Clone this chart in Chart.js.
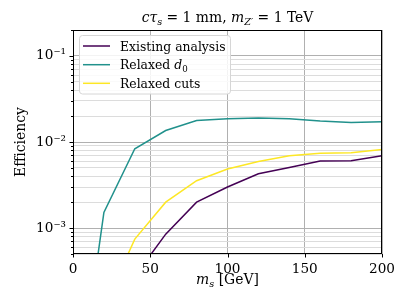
<!DOCTYPE html>
<html>
<head>
<meta charset="utf-8">
<script src="https://cdn.jsdelivr.net/npm/chart.js@4.4.0/dist/chart.umd.min.js"></script>
<style>
  html, body { margin: 0; padding: 0; background: #fff; }
  #wrap { width: 411px; height: 308px; position: relative; }
</style>
</head>
<body>
<div id="wrap"><canvas id="chart"></canvas></div>
<script>
// series (efficiency vs scalar mass in GeV)
const existingMass = [40, 60, 80, 100, 120, 140, 160, 180, 200];
const existingEff = [2.75e-4, 8.5e-4, 2.0e-3, 3.0e-3, 4.28e-3, 5.07e-3, 6.0e-3, 6.05e-3, 6.93e-3];

const relaxedD0Mass = [10, 20, 40, 60, 80, 100, 120, 140, 160, 180, 200];
const relaxedD0Eff = [8e-5, 1.52e-3, 8.35e-3, 1.36e-2, 1.78e-2, 1.86e-2, 1.9e-2, 1.86e-2, 1.75e-2, 1.69e-2, 1.72e-2];

const relaxedCutsMass = [20, 40, 60, 80, 100, 120, 140, 160, 180, 200];
const relaxedCutsEff = [1.2e-4, 7.45e-4, 2.0e-3, 3.55e-3, 4.85e-3, 5.95e-3, 6.93e-3, 7.38e-3, 7.5e-3, 8.2e-3];

const seriesNames = ['Existing analysis', 'Relaxed d0', 'Relaxed cuts'];
const seriesColors = ['#440154', '#21918c', '#fde725'];

const xTicks = [0, 50, 100, 150, 200];
const yDecades = [-4, -3, -2, -1];
const yMajorLabels = { '-3': '10⁻³', '-2': '10⁻²', '-1': '10⁻¹' };

const Y_MIN = 5e-4, Y_MAX = 0.2;
const FONT = '"DejaVu Serif", serif';

function points(xs, ys) {
  return xs.map((x, i) => ({ x: x, y: ys[i] }));
}

// log ticks: every integer multiple inside a decade, major at 1
function logTicks() {
  const out = [];
  yDecades.forEach(d => {
    for (let m = 1; m <= 9; m++) {
      const v = m * Math.pow(10, d);
      if (v >= Y_MIN * 0.999 && v <= Y_MAX * 1.001) out.push({ value: v, major: m === 1, decade: d });
    }
  });
  return out;
}

// draw a run of mixed roman / italic / subscript text
function drawRich(ctx, parts, x, y, align, size) {
  const sub = size * 0.7;
  let total = 0;
  parts.forEach(p => {
    ctx.font = (p.it ? 'italic ' : '') + (p.sub ? sub : size) + 'px ' + FONT;
    p.w = ctx.measureText(p.t).width;
    total += p.w;
  });
  let cx = align === 'center' ? x - total / 2 : x;
  ctx.textAlign = 'left';
  ctx.textBaseline = 'alphabetic';
  parts.forEach(p => {
    ctx.font = (p.it ? 'italic ' : '') + (p.sub ? sub : size) + 'px ' + FONT;
    ctx.fillText(p.t, cx, y + (p.sub ? size * 0.22 : 0));
    cx += p.w;
  });
}

const decorations = {
  id: 'decorations',
  afterDraw(chart) {
    const ctx = chart.ctx;
    const a = chart.chartArea;
    const xs = chart.scales.x, ys = chart.scales.y;
    ctx.save();
    ctx.fillStyle = '#000';

    // frame
    ctx.strokeStyle = '#000';
    ctx.lineWidth = 1;
    ctx.strokeRect(Math.round(a.left) + 0.5, Math.round(a.top) + 0.5,
      Math.round(a.right - a.left) - 1, Math.round(a.bottom - a.top) - 1);

    // tick marks, outward
    ctx.beginPath();
    xTicks.forEach(v => {
      const px = Math.round(xs.getPixelForValue(v)) + 0.5;
      ctx.moveTo(px, a.bottom);
      ctx.lineTo(px, a.bottom + 3.5);
    });
    logTicks().forEach(t => {
      const py = Math.round(ys.getPixelForValue(t.value)) + 0.5;
      ctx.moveTo(a.left, py);
      ctx.lineTo(a.left - (t.major ? 3.5 : 2), py);
    });
    ctx.stroke();

    // title
    drawRich(ctx, [
      { t: 'cτ', it: true }, { t: 's', it: true, sub: true },
      { t: ' = 1 mm, ' }, { t: 'm', it: true }, { t: 'Z′', it: true, sub: true },
      { t: ' = 1 TeV' }
    ], (a.left + a.right) / 2, 21.7, 'center', 13.9);

    // x axis title
    drawRich(ctx, [
      { t: 'm', it: true }, { t: 's', it: true, sub: true }, { t: ' [GeV]' }
    ], (a.left + a.right) / 2, 284, 'center', 13.9);

    // legend
    const lx = 79.5, ly = 35.5, lw = 151, lh = 58.5;
    ctx.beginPath();
    ctx.roundRect(lx, ly, lw, lh, 3);
    ctx.fillStyle = 'rgba(255,255,255,0.85)';
    ctx.fill();
    ctx.strokeStyle = '#d6d6d6';
    ctx.lineWidth = 1;
    ctx.stroke();
    const rows = [46, 64.7, 83.3];
    rows.forEach((ry, i) => {
      ctx.beginPath();
      ctx.strokeStyle = seriesColors[i];
      ctx.lineWidth = 1.5;
      ctx.moveTo(83, ry);
      ctx.lineTo(110, ry);
      ctx.stroke();
    });
    ctx.fillStyle = '#000';
    const lf = 12.4;
    drawRich(ctx, [{ t: 'Existing analysis' }], 120, rows[0] + 4.5, 'left', lf);
    drawRich(ctx, [{ t: 'Relaxed ' }, { t: 'd', it: true }, { t: '0', sub: true }], 120, rows[1] + 4.5, 'left', lf);
    drawRich(ctx, [{ t: 'Relaxed cuts' }], 120, rows[2] + 4.5, 'left', lf);
    ctx.restore();
  }
};

new Chart(document.getElementById('chart'), {
  type: 'line',
  data: {
    datasets: [
      { label: seriesNames[0], data: points(existingMass, existingEff) },
      { label: seriesNames[1], data: points(relaxedD0Mass, relaxedD0Eff) },
      { label: seriesNames[2], data: points(relaxedCutsMass, relaxedCutsEff) }
    ].map((d, i) => Object.assign(d, {
      borderColor: seriesColors[i],
      backgroundColor: seriesColors[i],
      borderWidth: 1.5,
      pointRadius: 0,
      tension: 0,
      fill: false
    }))
  },
  options: {
    responsive: true,
    maintainAspectRatio: false,
    animation: false,
    layout: { padding: { left: 0, right: 29, top: 30, bottom: 0 } },
    plugins: {
      legend: { display: false },
      tooltip: { enabled: false }
    },
    scales: {
      x: {
        type: 'linear',
        min: 0,
        max: 200,
        afterBuildTicks: s => { s.ticks = xTicks.map(v => ({ value: v })); },
        afterFit: s => { s.height = 54; },
        grid: { color: '#b0b0b0', lineWidth: 1, drawTicks: false },
        border: { display: false },
        ticks: {
          color: '#000',
          padding: 7,
          font: { family: FONT, size: 13.6 }
        }
      },
      y: {
        type: 'logarithmic',
        min: Y_MIN,
        max: Y_MAX,
        afterBuildTicks: s => { s.ticks = logTicks(); },
        afterFit: s => { s.width = 73; },
        grid: {
          color: c => (c.tick && c.tick.major) ? '#b0b0b0' : '#dcdcdc',
          lineWidth: 1,
          drawTicks: false
        },
        border: { display: false },
        title: {
          display: true,
          text: 'Efficiency',
          color: '#000',
          font: { family: FONT, size: 14 },
          padding: { top: 13, bottom: 0 }
        },
        ticks: {
          autoSkip: false,
          color: '#000',
          padding: 7,
          font: { family: FONT, size: 13.6 },
          callback: function (value, index, ticks) {
            const t = ticks[index];
            return t.major ? (yMajorLabels[String(t.decade)] || '') : '';
          }
        }
      }
    }
  },
  plugins: [decorations]
});
</script>
</body>
</html>
